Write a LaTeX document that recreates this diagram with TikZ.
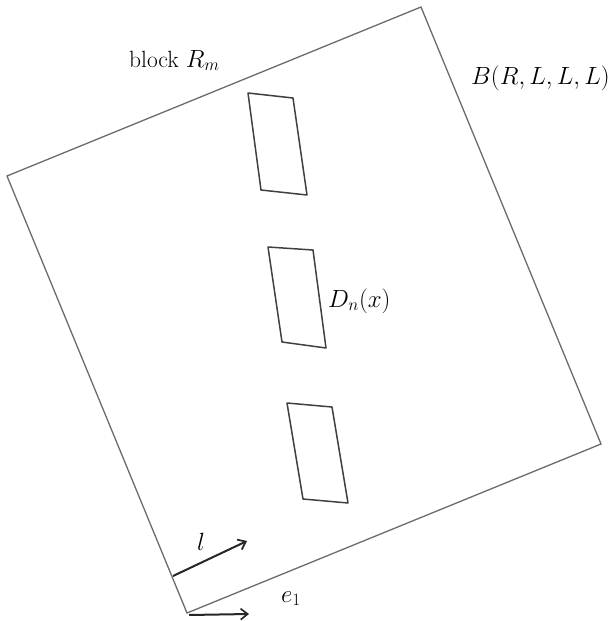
\documentclass[tikz,border=0pt]{standalone}
\usetikzlibrary{arrows.meta}
\begin{document}
\begin{tikzpicture}[x=1pt,y=-1pt,
  bigbox/.style={draw=black!58, line width=1.3pt, line join=miter},
  cell/.style={draw=black!75, line width=1.5pt, line join=round},
  vec/.style={draw=black!85, line width=2pt, -{Straight Barb[length=7pt,width=11pt,line width=1.7pt]}},
  lbl/.style={font=\fontsize{23.5}{28}\selectfont, inner sep=0pt}]
\useasboundingbox (0,0) rectangle (611,621);
% big rotated square
\coordinate (A) at (7,176);
\coordinate (B) at (421,7);
\coordinate (C) at (601,444);
\coordinate (D) at (187,613);
\draw[bigbox] (A) -- (B) -- (C) -- (D) -- cycle;
% cells
\draw[cell] (248,93) -- (293,98) -- (307,195) -- (261,190) -- cycle;
\draw[cell] (268,247) -- (313,250) -- (326,348) -- (282,342) -- cycle;
\draw[cell] (287,403) -- (332,407) -- (348,503) -- (303,499) -- cycle;
% vectors
\coordinate (l0) at (173,576);
\coordinate (l1) at (247,541);
\coordinate (e0) at (189,615);
\coordinate (e1) at (249,614);
\draw[vec] (l0) -- (l1);
\draw[vec] (e0) -- (e1);
% labels
\node[lbl, anchor=base west] (blk) at (129,67) {block $R_m$};
\node[lbl, anchor=base west] (bb) at (471,84) {$B(R,L,L,L)$};
\node[lbl, anchor=base west] (dn) at (328,307) {$D_n(x)$};
\node[lbl, anchor=base] (ll) at (201,550) {$l$};
\node[lbl, anchor=base west] (ee) at (281,602) {$e_1$};
\end{tikzpicture}
\end{document}
